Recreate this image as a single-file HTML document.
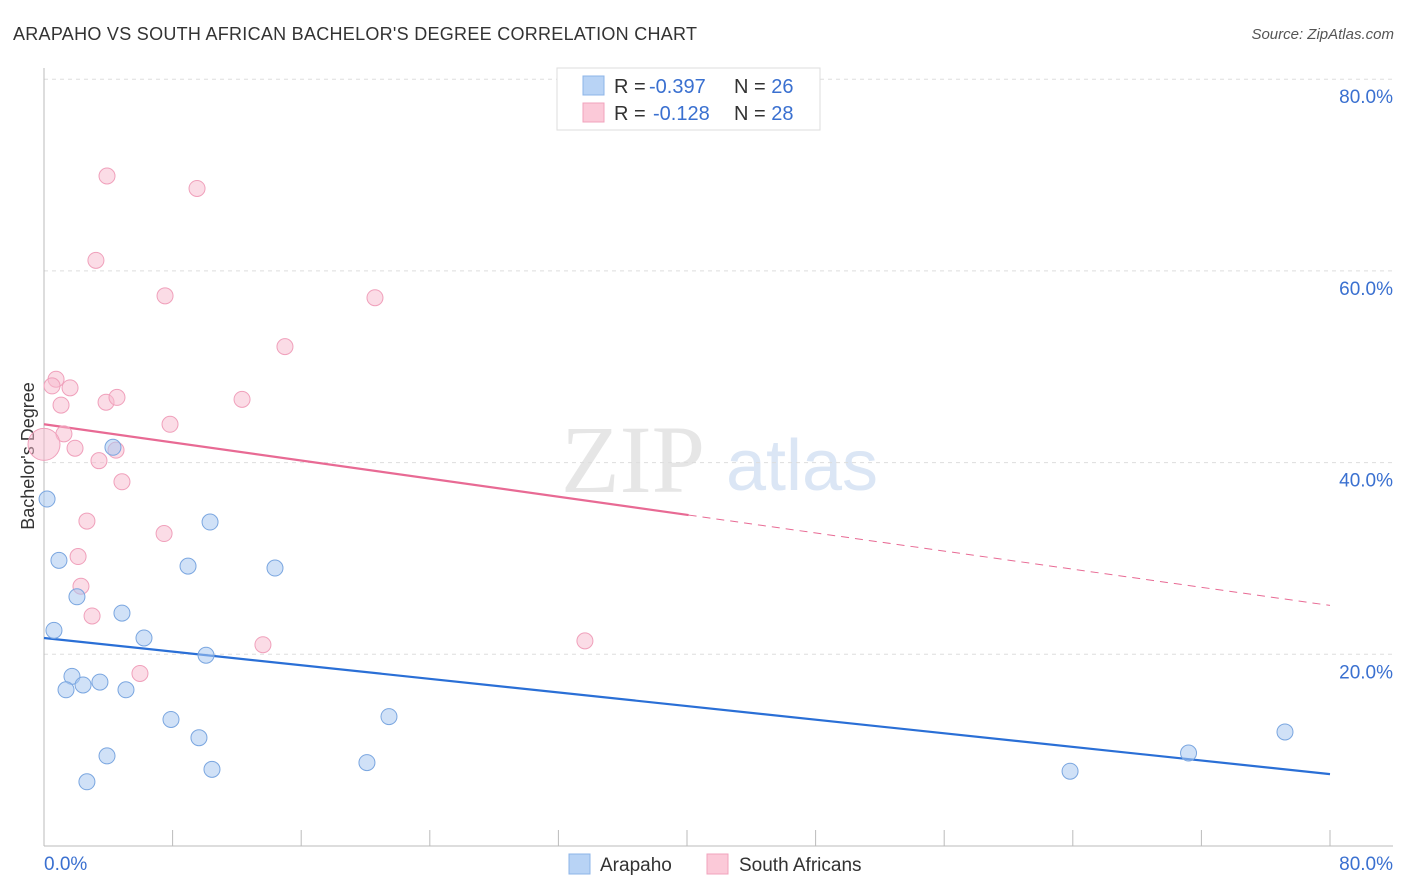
<!DOCTYPE html>
<html><head><meta charset="utf-8"><style>
body{margin:0;background:#fff;font-family:"Liberation Sans",sans-serif;}
svg{display:block}
</style></head><body>
<svg width="1406" height="892" id="chart">
<text x="13" y="40" font-size="18" fill="#333" textLength="684">ARAPAHO VS SOUTH AFRICAN BACHELOR'S DEGREE CORRELATION CHART</text>
<text x="1394" y="39" font-size="15" fill="#555" font-style="italic" text-anchor="end">Source: ZipAtlas.com</text>
<text x="633" y="492" font-size="96" fill="#e6e6e6" font-family="Liberation Serif" text-anchor="middle">ZIP</text>
<text x="802" y="490" font-size="72" fill="#dbe6f5" text-anchor="middle">atlas</text>
<text x="34" y="456" font-size="18" fill="#333" text-anchor="middle" transform="rotate(-90 34 456)">Bachelor's Degree</text>
<g id="grid"></g><g id="axes"></g><g id="lines"></g><g id="pts"></g>
<g>
<rect x="557" y="68" width="263" height="62" fill="#fff" stroke="#ddd"/>
<rect x="583" y="76" width="21" height="19" fill="#b8d3f5" stroke="#8db4e8"/>
<rect x="583" y="103" width="21" height="19" fill="#fbc9d8" stroke="#f1a3bc"/>
<text x="614" y="93" font-size="20" fill="#333">R = <tspan x="649" fill="#3a70d0">-0.397</tspan><tspan x="734">N = </tspan><tspan fill="#3a70d0">26</tspan></text>
<text x="614" y="120" font-size="20" fill="#333">R = <tspan x="653" fill="#3a70d0">-0.128</tspan><tspan x="734">N = </tspan><tspan fill="#3a70d0">28</tspan></text>
</g>
<g>
<rect x="569" y="854" width="21" height="20" fill="#b8d3f5" stroke="#8db4e8"/>
<text x="600" y="871" font-size="19" fill="#333">Arapaho</text>
<rect x="707" y="854" width="21" height="20" fill="#fbc9d8" stroke="#f1a3bc"/>
<text x="739" y="871" font-size="19" fill="#333">South Africans</text>
</g>
</svg>
<script>
const yTicks=[20,40,60,80];
const xTickLabels=["0.0%","80.0%"];
const blueX=[0.19,0.93,0.62,2.05,1.74,1.37,2.43,3.48,5.1,4.85,6.22,4.29,3.92,2.67,7.9,9.64,10.45,8.96,10.08,10.33,14.37,21.46,20.09,63.83,71.2,77.2];
const blueY=[36.2,29.8,22.5,26.0,17.7,16.3,16.8,17.1,16.3,24.3,21.7,41.6,9.4,6.7,13.2,11.3,8.0,29.2,19.9,33.8,29.0,13.5,8.7,7.8,9.7,11.9];
const pinkX=[3.92,9.52,3.23,7.53,20.59,14.99,0.75,0.5,1.62,1.06,3.86,4.54,12.32,7.84,1.24,0,1.93,4.48,3.42,4.85,2.67,7.47,2.12,2.3,2.99,13.62,33.65,5.97];
const pinkY=[69.9,68.6,61.1,57.4,57.2,52.1,48.7,48.0,47.8,46.0,46.3,46.8,46.6,44.0,43.0,41.9,41.5,41.3,40.2,38.0,33.9,32.6,30.2,27.1,24.0,21.0,21.4,18.0];
const blueTrend=[21.7,7.5];
const pinkTrend=[44.0,25.1];
const NS="http://www.w3.org/2000/svg";
const sx=v=>44+v/80*1286, sy=v=>846-v*9.585;
function mk(t,a,p){const e=document.createElementNS(NS,t);for(const k in a)e.setAttribute(k,a[k]);document.getElementById(p).appendChild(e);return e;}
yTicks.forEach(t=>{
 const g=mk('line',{x1:44,x2:1393,y1:sy(t),y2:sy(t),stroke:'#ddd','stroke-dasharray':'4,4'},'grid');
 
 
 const l=mk('text',{x:1393,y:sy(t)+24,'font-size':19,fill:'#3a70d0','text-anchor':'end'},'grid');
 l.textContent=t.toFixed(1)+'%';
 
 
});
mk('line',{x1:44,x2:44,y1:68,y2:846,stroke:'#bbb'},'axes');
mk('line',{x1:44,x2:1393,y1:846,y2:846,stroke:'#bbb'},'axes');
for(let i=0;i<=10;i++){mk('line',{x1:sx(i*8),x2:sx(i*8),y1:830,y2:846,stroke:'#bbb'},'axes');}
xTickLabels.forEach((s,i)=>{const t=mk('text',{x:i?1393:44,y:870,'font-size':19,fill:'#3a70d0','text-anchor':i?'end':'start'},'axes');t.textContent=s;
 
 });
let b=mk('line',{x1:sx(0),y1:sy(blueTrend[0]),x2:sx(80),y2:sy(blueTrend[1]),stroke:'#2a6fd6','stroke-width':2.2},'lines');


const pAt=x=>pinkTrend[0]+(pinkTrend[1]-pinkTrend[0])*x/80;
let p1=mk('line',{x1:sx(0),y1:sy(pinkTrend[0]),x2:sx(40.1),y2:sy(pAt(40.1)),stroke:'#e86a94','stroke-width':2.2},'lines');


let p2=mk('line',{x1:sx(40.1),y1:sy(pAt(40.1)),x2:sx(80),y2:sy(pinkTrend[1]),stroke:'#e86a94','stroke-width':1,'stroke-dasharray':'8,6'},'lines');


pinkX.forEach((x,i)=>{const c=mk('circle',{cx:sx(x),cy:sy(pinkY[i]),r:x===0?16:8,fill:'rgba(248,185,205,0.5)',stroke:'#f0a0bb','stroke-width':1},'pts');
 
 });
blueX.forEach((x,i)=>{const c=mk('circle',{cx:sx(x),cy:sy(blueY[i]),r:8,fill:'rgba(170,200,240,0.55)',stroke:'#7aa6e0','stroke-width':1},'pts');
 
 });
</script>
</body></html>
